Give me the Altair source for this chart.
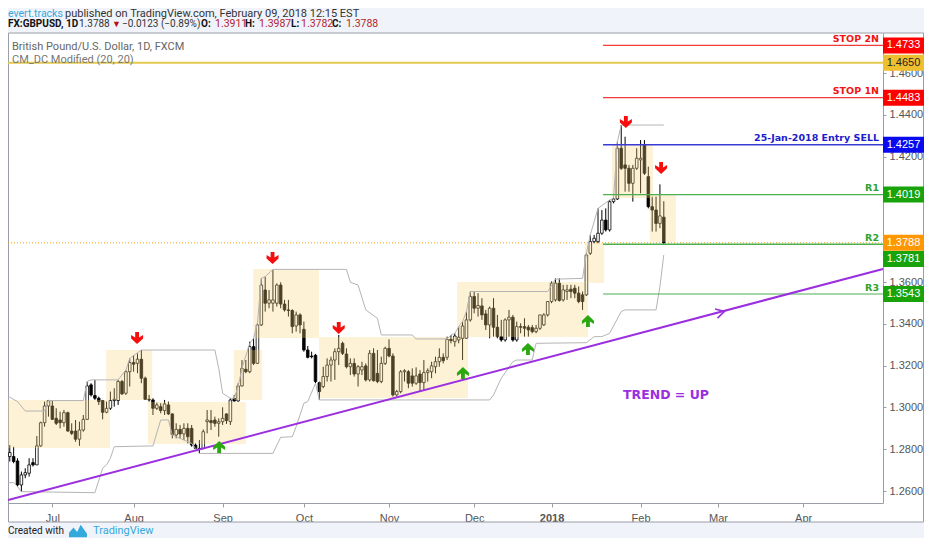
import altair as alt
import pandas as pd

opens = [1.2765,1.2765,1.2765,1.2744,1.2629,1.2677,1.2685,1.2736,1.2725,1.2816,
1.2927,1.3007,1.3007,1.2948,1.2940,1.2927,1.2975,1.2887,1.2887,1.2848,
1.2892,1.2943,1.3108,1.3057,1.3044,1.3033,1.2977,1.2996,1.3033,1.3033,
1.3124,1.3068,1.3171,1.3215,1.3211,1.3231,1.3140,1.3039,1.3036,1.2996,
1.3004,1.2985,1.3012,1.2969,1.2868,1.2895,1.2873,1.2900,1.2900,1.2820,
1.2801,1.2804,1.2932,1.2937,1.2940,1.2924,1.2932,1.2969,1.2932,1.3044,
1.3031,1.3103,1.3183,1.3171,1.3291,1.3211,1.3395,1.3562,1.3499,1.3499,
1.3499,1.3586,1.3495,1.3467,1.3464,1.3390,1.3443,1.3374,1.3275,1.3246,
1.3250,1.3119,1.3100,1.3148,1.3203,1.3227,1.3267,1.3307,1.3256,1.3195,
1.3211,1.3160,1.3179,1.3199,1.3132,1.3259,1.3163,1.3124,1.3211,1.3283,
1.3246,1.3060,1.3076,1.3171,1.3171,1.3151,1.3116,1.3160,1.3119,1.3167,
1.3171,1.3195,1.3219,1.3240,1.3240,1.3326,1.3315,1.3323,1.3331,1.3331,
1.3419,1.3531,1.3475,1.3486,1.3448,1.3395,1.3475,1.3384,1.3339,1.3323,
1.3419,1.3432,1.3323,1.3387,1.3387,1.3384,1.3382,1.3363,1.3379,1.3395,
1.3443,1.3507,1.3515,1.3595,1.3515,1.3555,1.3566,1.3571,1.3547,1.3539,
1.3539,1.3738,1.3794,1.3794,1.3834,1.3897,1.3850,1.3985,1.3998,1.4241,
1.4161,1.4145,1.4073,1.4145,1.4185,1.4257,1.4105,1.3961,1.3945,1.3881,1.3911]

highs = [1.2812,1.2820,1.2812,1.2757,1.2693,1.2709,1.2757,1.2757,1.2863,1.2932,
1.3028,1.3036,1.3033,1.2996,1.2980,1.2988,1.2980,1.2924,1.2940,1.2932,
1.2964,1.3124,1.3116,1.3132,1.3052,1.3036,1.3028,1.3076,1.3092,1.3132,
1.3132,1.3179,1.3235,1.3251,1.3259,1.3275,1.3148,1.3060,1.3044,1.3023,
1.3020,1.3036,1.3028,1.2972,1.2924,1.2916,1.2924,1.2924,1.2916,1.2828,
1.2844,1.2895,1.2988,1.2988,1.2956,1.2948,1.3001,1.2972,1.3044,1.3060,
1.3116,1.3227,1.3227,1.3315,1.3331,1.3403,1.3618,1.3626,1.3562,1.3658,
1.3594,1.3599,1.3515,1.3515,1.3470,1.3459,1.3451,1.3411,1.3294,1.3267,
1.3256,1.3124,1.3195,1.3235,1.3243,1.3283,1.3347,1.3315,1.3283,1.3235,
1.3235,1.3203,1.3219,1.3211,1.3275,1.3283,1.3275,1.3243,1.3291,1.3326,
1.3259,1.3084,1.3179,1.3183,1.3179,1.3187,1.3192,1.3179,1.3227,1.3187,
1.3219,1.3243,1.3283,1.3259,1.3339,1.3347,1.3355,1.3387,1.3411,1.3459,
1.3555,1.3555,1.3547,1.3523,1.3467,1.3483,1.3523,1.3443,1.3419,1.3427,
1.3467,1.3443,1.3411,1.3403,1.3427,1.3395,1.3395,1.3395,1.3443,1.3451,
1.3507,1.3603,1.3618,1.3618,1.3587,1.3587,1.3587,1.3587,1.3579,1.3555,
1.3738,1.3826,1.3826,1.3953,1.3945,1.3953,1.3993,1.4009,1.4272,1.4352,
1.4296,1.4161,1.4161,1.4241,1.4280,1.4280,1.4153,1.4009,1.4009,1.4068,1.3987]

lows = [1.2701,1.2741,1.2733,1.2621,1.2597,1.2661,1.2669,1.2717,1.2725,1.2812,
1.2908,1.2956,1.2940,1.2916,1.2900,1.2908,1.2884,1.2868,1.2836,1.2816,
1.2884,1.2940,1.3052,1.3036,1.3012,1.2943,1.2972,1.2988,1.3004,1.3012,
1.3060,1.3060,1.3100,1.3171,1.3164,1.3116,1.3036,1.3028,1.2964,1.2988,
1.2972,1.2964,1.2964,1.2852,1.2852,1.2852,1.2844,1.2828,1.2812,1.2800,
1.2780,1.2800,1.2876,1.2892,1.2908,1.2860,1.2916,1.2921,1.2916,1.3028,
1.3028,1.3100,1.3164,1.3164,1.3203,1.3208,1.3390,1.3459,1.3475,1.3459,
1.3483,1.3475,1.3459,1.3435,1.3355,1.3363,1.3355,1.3267,1.3235,1.3235,
1.3116,1.3036,1.3092,1.3124,1.3124,1.3132,1.3203,1.3251,1.3187,1.3155,
1.3148,1.3100,1.3155,1.3124,1.3124,1.3124,1.3116,1.3116,1.3203,1.3240,
1.3052,1.3052,1.3068,1.3124,1.3092,1.3100,1.3108,1.3076,1.3084,1.3124,
1.3140,1.3163,1.3195,1.3211,1.3227,1.3307,1.3291,1.3307,1.3227,1.3328,
1.3411,1.3451,1.3435,1.3419,1.3371,1.3331,1.3339,1.3331,1.3315,1.3315,
1.3339,1.3315,1.3315,1.3355,1.3339,1.3339,1.3355,1.3355,1.3371,1.3390,
1.3435,1.3499,1.3507,1.3507,1.3507,1.3515,1.3523,1.3523,1.3499,1.3467,
1.3534,1.3730,1.3786,1.3786,1.3826,1.3842,1.3842,1.3977,1.3993,1.4137,
1.4033,1.4033,1.3985,1.4137,1.4025,1.4113,1.3953,1.3842,1.3842,1.3858,1.3782]

closes = [1.2788,1.2784,1.2741,1.2629,1.2677,1.2688,1.2725,1.2725,1.2816,1.2927,
1.3007,1.3033,1.2943,1.2924,1.2927,1.2975,1.2887,1.2876,1.2848,1.2892,
1.2943,1.3103,1.3060,1.3044,1.3028,1.2977,1.2996,1.3033,1.3039,1.3124,
1.3065,1.3171,1.3215,1.3207,1.3231,1.3140,1.3039,1.3036,1.2996,1.3012,
1.2985,1.3017,1.2969,1.2871,1.2895,1.2873,1.2900,1.2860,1.2820,1.2804,
1.2804,1.2884,1.2940,1.2927,1.2924,1.2932,1.2948,1.2937,1.3036,1.3031,
1.3103,1.3187,1.3171,1.3291,1.3211,1.3395,1.3586,1.3499,1.3515,1.3515,
1.3586,1.3495,1.3467,1.3464,1.3387,1.3443,1.3395,1.3275,1.3240,1.3243,
1.3124,1.3076,1.3148,1.3203,1.3227,1.3267,1.3283,1.3259,1.3195,1.3211,
1.3160,1.3195,1.3195,1.3132,1.3259,1.3128,1.3124,1.3211,1.3283,1.3246,
1.3060,1.3076,1.3171,1.3176,1.3116,1.3116,1.3151,1.3119,1.3167,1.3176,
1.3199,1.3219,1.3240,1.3224,1.3326,1.3320,1.3342,1.3336,1.3390,1.3419,
1.3531,1.3475,1.3488,1.3443,1.3395,1.3475,1.3384,1.3339,1.3323,1.3419,
1.3432,1.3323,1.3387,1.3384,1.3379,1.3371,1.3363,1.3379,1.3443,1.3443,
1.3507,1.3595,1.3595,1.3512,1.3563,1.3563,1.3555,1.3547,1.3507,1.3507,
1.3730,1.3794,1.3810,1.3834,1.3897,1.3850,1.3985,1.3998,1.4241,1.4145,
1.4145,1.4073,1.4145,1.4193,1.4193,1.4121,1.3961,1.3945,1.3881,1.3917,1.3788]

upper_bar = [0,1,3,5,10,11,20,21,22,29,31,32,35,54,55,56,58,59,60,61,63,64,65,66,67,69,88,89,91,93,96,97,105,106,114,115,116,117,118,119,120,140,142,149,150,151,153,156,157,158,159,170]
upper_val = [1.3049,1.3049,1.3028,1.2983,1.2983,1.3033,1.3033,1.3124,1.3132,1.3132,1.3179,1.3235,1.3275,1.3275,1.3187,1.3068,1.3044,1.3044,1.3100,1.3187,1.3307,1.3331,1.3403,1.3618,1.3626,1.3661,1.3661,1.3599,1.3586,1.3467,1.3427,1.3347,1.3347,1.3328,1.3328,1.3347,1.3355,1.3387,1.3411,1.3459,1.3555,1.3555,1.3614,1.3618,1.3738,1.3826,1.3953,1.3993,1.4001,1.4272,1.4352,1.4352]
lower_bar = [0,2,3,4,23,25,26,27,28,38,40,42,43,48,49,50,69,71,74,75,77,78,80,81,125,126,128,131,132,136,137,150,152,154,156,159,160,168,169,170]
lower_val = [1.2640,1.2640,1.2621,1.2597,1.2592,1.2709,1.2725,1.2757,1.2812,1.2816,1.2940,1.2940,1.2868,1.2828,1.2804,1.2780,1.2780,1.2857,1.2860,1.2908,1.3020,1.3028,1.3116,1.3036,1.3036,1.3060,1.3140,1.3219,1.3227,1.3227,1.3307,1.3310,1.3339,1.3339,1.3355,1.3459,1.3467,1.3467,1.3579,1.3730]

box_x1 = [0.54,25.9,36.7,58.9,63.9,80.9,116.6,149.6,156.6,166.4]
box_x2 = [26.9,37.8,62.0,66.2,80.9,119.4,150.4,154.6,167.2,173.1]
box_y1 = [1.3036,1.3275,1.3026,1.3275,1.3663,1.3337,1.3601,1.3787,1.4256,1.4022]
box_y2 = [1.2806,1.3036,1.2825,1.3036,1.3332,1.3045,1.3337,1.3596,1.4003,1.3792]

down_bar = [33.9,68.9,86,160.2,169.3]
down_val = [1.3332,1.3715,1.3380,1.4366,1.4146]
up_bar = [55.1,118.1,134.9,150.4]
up_val = [1.2811,1.3165,1.3280,1.3414]

level_val = [1.4733,1.4483,1.4257,1.4019,1.3781,1.3543]
level_col = ["#f23b3b","#f23b3b","#3a3ad6","#4caf50","#4caf50","#4caf50"]
level_wid = [1.2,1.2,1.5,1.2,1.5,1.2]
level_txt = ["STOP 2N","STOP 1N","25-Jan-2018 Entry SELL","R1","R2","R3"]
level_tcol = ["#f01414","#f01414","#1c1ccc","#2ea32e","#2ea32e","#2ea32e"]

tag_txt = ["1.4733","1.4650","1.4483","1.4257","1.4019","1.3788","1.3781","1.3543"]
tag_pos = [1.4733,1.4650,1.4483,1.4257,1.4019,1.3788,1.3711,1.3543]
tag_fill = ["#ff0000","#eec02f","#ff0000","#0a0af0","#19a30a","#ff9800","#19a30a","#19a30a"]
tag_ink = ["#ffffff","#222222","#ffffff","#ffffff","#ffffff","#ffffff","#ffffff","#ffffff"]

month_bar = [12,33,56,77,99,121,141,164,184,206]
month_txt = ["Jul","Aug","Sep","Oct","Nov","Dec","2018","Feb","Mar","Apr"]
price_ticks = [1.26,1.28,1.30,1.32,1.34,1.36,1.42,1.44,1.46]

trend_bar = [0.543,226.64]
trend_val = [1.2557,1.3663]
gold_val = 1.4650
last_val = 1.3788
level_from = 154.3

X0, X1 = 0.543, 226.64
xs = alt.Scale(domain=[X0, X1], nice=False, zero=False, padding=0)
ys = alt.Scale(domain=[1.25426, 1.47925], nice=False, zero=False)
UI = "Roboto"
TICKF = "Liberation Sans"
BOLD = "DejaVu Sans"
ONE = pd.DataFrame({"a": [0]})
GRAY = "#9a9ea6"
PAGE = "#f0f3fa"

tick_expr = "".join(f"datum.value=={b}?'{t}':" for b, t in zip(month_bar, month_txt)) + "''"

x_axis = alt.Axis(title=None, values=month_bar, labelExpr=tick_expr, grid=False, domainColor=GRAY, tickColor=GRAY,
                  tickSize=4, labelColor="#555555", labelFont=TICKF, labelFontSize=11, labelPadding=5,
                  labelOverlap=False, labelFlush=False,
                  labelFontWeight=alt.condition("datum.value == 141", alt.value("bold"), alt.value("normal")))
y_axis = alt.Axis(title=None, orient="right", values=price_ticks, format=".4f", grid=False, domainColor=GRAY,
                  tickColor=GRAY, tickSize=3, labelColor="#555555", labelFont=TICKF, labelFontSize=11,
                  labelPadding=3, labelOverlap=False, labelFlush=False)


def X(f):
    return alt.X(f, type="quantitative", scale=xs, axis=x_axis)


def Y(f):
    return alt.Y(f, type="quantitative", scale=ys, axis=y_axis)


def band(x1, x2, y1, y2, color):
    return alt.Chart(ONE).mark_rect(color=color).encode(
        x=alt.value(x1), x2=alt.value(x2), y=alt.value(y1), y2=alt.value(y2))


def txt(s, px, py, color, size=11, weight="normal", font=UI, align="left"):
    return alt.Chart(ONE).mark_text(
        text=s, color=color, fontSize=size, fontWeight=weight, font=font, align=align, baseline="middle"
    ).encode(x=alt.value(px - 8), y=alt.value(py - 33))


bars = pd.DataFrame({"i": range(len(opens)), "o": opens, "h": highs, "l": lows, "c": closes})
boxes = pd.DataFrame({"x1": box_x1, "x2": box_x2, "y1": box_y1, "y2": box_y2})
levels = pd.DataFrame({"a": [level_from] * 6, "b": [X1] * 6, "v": level_val, "col": level_col,
                       "w": level_wid, "t": level_txt, "tc": level_tcol})
tags = pd.DataFrame({"t": tag_txt, "p": tag_pos, "f": tag_fill, "k": tag_ink})

layers = [
    band(0, 916, -25, 0, PAGE),
    band(0, 916, 489, 505, PAGE),
    alt.Chart(ONE).mark_rect(fillOpacity=0, stroke=GRAY, strokeWidth=1).encode(
        x=alt.value(0.5), x2=alt.value(915.5), y=alt.value(0), y2=alt.value(489)),
    alt.Chart(pd.DataFrame({"a": [X0], "b": [X1], "v": [last_val]})).mark_rule(
        color="#ff9800", strokeWidth=1, strokeDash=[1, 2]).encode(x=X("a"), x2="b", y=Y("v")),
    alt.Chart(pd.DataFrame({"a": [X0], "b": [X1], "v": [gold_val]})).mark_rule(
        color="#e5c94f", strokeWidth=2).encode(x=X("a"), x2="b", y=Y("v")),
    alt.Chart(bars).mark_rule(color="#000000", strokeWidth=1).encode(x=X("i"), y=Y("h"), y2="l"),
    alt.Chart(bars).mark_bar(size=2.6, stroke="#000000", strokeWidth=0.8, orient="vertical").encode(
        x=X("i"), y=Y("o"), y2="c",
        fill=alt.condition("datum.c >= datum.o", alt.value("#ffffff"), alt.value("#000000"))),
    alt.Chart(boxes).mark_rect(color="#fad278", opacity=0.3).encode(x=X("x1"), x2="x2", y=Y("y1"), y2="y2"),
    alt.Chart(pd.DataFrame({"i": upper_bar, "v": upper_val})).mark_line(color="#b4b4b4", strokeWidth=1).encode(x=X("i"), y=Y("v")),
    alt.Chart(pd.DataFrame({"i": lower_bar, "v": lower_val})).mark_line(color="#b4b4b4", strokeWidth=1).encode(x=X("i"), y=Y("v")),
    alt.Chart(levels).mark_rule().encode(
        x=X("a"), x2="b", y=Y("v"),
        color=alt.Color("col:N", scale=None),
        strokeWidth=alt.StrokeWidth("w:Q", scale=None)),
    alt.Chart(pd.DataFrame({"i": trend_bar, "v": trend_val})).mark_line(color="#9b2fe0", strokeWidth=2).encode(x=X("i"), y=Y("v")),
    alt.Chart(pd.DataFrame({"i": [184.5], "v": [1.3454]})).mark_point(
        shape="M-0.8,-1 L1,0 L-0.8,1", size=90, color="#9b2fe0", strokeWidth=1.6, filled=False, angle=345, opacity=1
    ).encode(x=X("i"), y=Y("v")),
    alt.Chart(pd.DataFrame({"i": down_bar, "v": down_val})).mark_point(
        shape="M-0.32,-1 L0.32,-1 L0.32,-0.1 L1,-0.5 L1,0.05 L0,1 L-1,0.05 L-1,-0.5 L-0.32,-0.1 Z",
        size=144, color="#f80d0d", filled=True, opacity=1).encode(x=X("i"), y=Y("v")),
    alt.Chart(pd.DataFrame({"i": up_bar, "v": up_val})).mark_point(
        shape="M-0.32,1 L0.32,1 L0.32,0.1 L1,0.5 L1,-0.05 L0,-1 L-1,-0.05 L-1,0.5 L-0.32,0.1 Z",
        size=144, color="#2aa80f", filled=True, opacity=1).encode(x=X("i"), y=Y("v")),
    alt.Chart(levels).mark_text(font=BOLD, fontWeight="bold", fontSize=9.5, align="right", baseline="middle", dy=-6.5).encode(
        x=alt.value(871), y=Y("v"), text="t:N", color=alt.Color("tc:N", scale=None)),
    alt.Chart(tags).mark_rect(width=41, height=16).encode(
        x=alt.value(895.5), y=Y("p"), fill=alt.Fill("f:N", scale=None)),
    alt.Chart(tags).mark_text(font=TICKF, fontSize=11, baseline="middle", align="center").encode(
        x=alt.value(895.5), y=Y("p"), text="t:N", color=alt.Color("k:N", scale=None)),
    txt("TREND = UP", 666, 395, "#9b2fe0", size=12.5, weight="bold", font=BOLD, align="center"),
    txt("British Pound/U.S. Dollar, 1D, FXCM", 12, 47, "#666666", size=11),
    txt("CM_DC Modified (20, 20)", 12, 60, "#777777", size=11),
    txt("evert.tracks", 8, 13.5, "#35a9dc", size=10.5),
    txt("published on TradingView.com, February 09, 2018 12:15 EST", 65, 13.5, "#333333", size=11),
    txt("FX:GBPUSD, 1D", 8, 24, "#111111", size=10, weight="bold"),
    txt("1.3788", 79, 24, "#333333", size=10),
    txt("▼", 112, 24, "#b21414", size=9),
    txt("−0.0123 (−0.89%)", 122, 24, "#333333", size=10),
    txt("O:", 201, 24, "#111111", size=10, weight="bold"),
    txt("1.3911", 215, 24, "#b21f2d", size=10.5),
    txt("H:", 245, 24, "#111111", size=10, weight="bold"),
    txt("1.3987", 259, 24, "#b21f2d", size=10.5),
    txt("L:", 291, 24, "#111111", size=10, weight="bold"),
    txt("1.3782", 301, 24, "#b21f2d", size=10.5),
    txt("C:", 332, 24, "#111111", size=10, weight="bold"),
    txt("1.3788", 346, 24, "#b21f2d", size=10.5),
    txt("Created with", 8, 531, "#222222", size=10),
    alt.Chart(ONE).mark_point(
        shape="M-1,0.7 L-1,0.2 L-0.5,-0.4 L-0.1,0.1 L0.3,-0.7 L1,0.3 L1,0.7 Z",
        size=324, color="#35a9dc", filled=True, opacity=1).encode(x=alt.value(70), y=alt.value(498)),
    txt("TradingView", 93, 531, "#35a9dc", size=11),
]

chart = alt.layer(*layers).properties(
    width=875, height=470,
    background="#ffffff",
    padding={"left": 0, "top": 25, "right": 41, "bottom": 35},
    autosize=alt.AutoSizeParams(type="none"),
).configure_view(strokeWidth=0)

chart.save("out.html", embed_options={"renderer": "svg", "actions": False})
